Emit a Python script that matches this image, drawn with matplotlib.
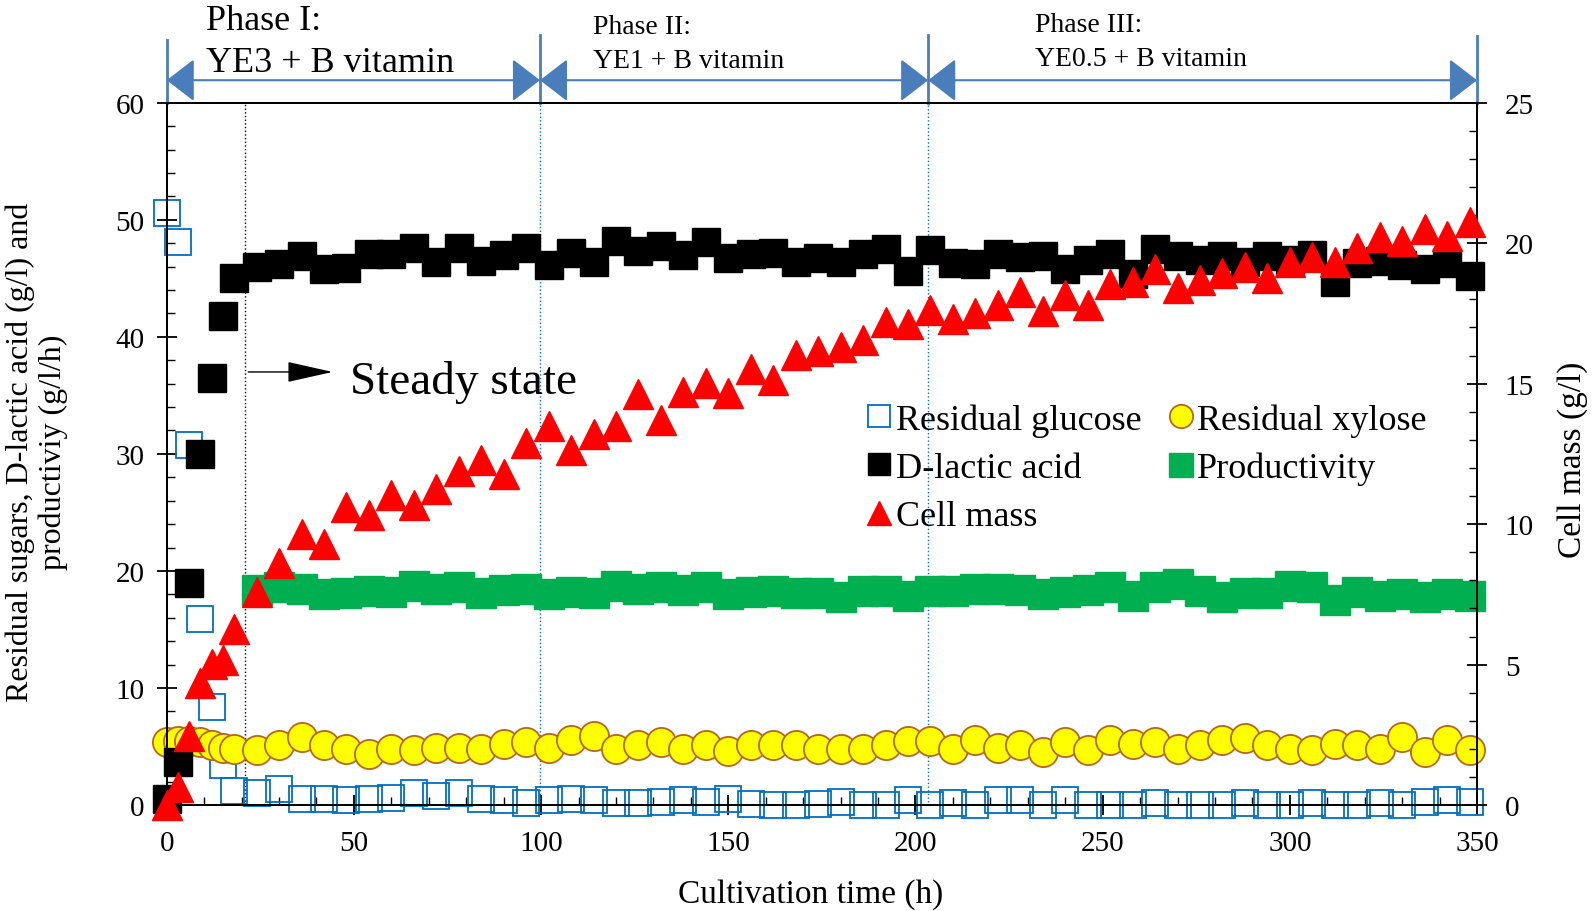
import matplotlib
matplotlib.use("Agg")
import matplotlib.pyplot as plt
from matplotlib.ticker import MultipleLocator

plt.rcParams['font.family'] = ['Liberation Serif', 'DejaVu Serif']

## ---------------------------------------------------------------
## data
## ---------------------------------------------------------------
times = [0, 3, 6, 9, 12, 15, 18,
         24, 30, 36, 42, 48, 54, 60, 66, 72, 78,
         84, 90, 96, 102, 108, 114, 120, 126, 132, 138,
         144, 150, 156, 162, 168, 174, 180, 186, 192, 198,
         204, 210, 216, 222, 228, 234, 240, 246, 252, 258,
         264, 270, 276, 282, 288, 294, 300, 306, 312, 318,
         324, 330, 336, 342, 348]

glucose = [50.6, 48.1, 30.8, 15.9, 8.4, 3.4, 1.2,
           1.0, 1.4, 0.5, 0.5, 0.4, 0.5, 0.6, 1.0, 0.8, 1.0,
           0.5, 0.4, 0.2, 0.4, 0.5, 0.4, 0.2, 0.2, 0.3, 0.4,
           0.3, 0.5, 0.1, 0.0, 0.0, 0.1, 0.3, 0.0, 0.0, 0.4,
           0.0, 0.2, 0.0, 0.4, 0.4, 0.0, 0.4, 0.0, 0.0, 0.0,
           0.2, 0.0, 0.0, 0.0, 0.2, 0.0, 0.0, 0.2, 0.0, 0.0,
           0.2, 0.0, 0.3, 0.4, 0.3]

xylose = [5.4, 5.5, 5.5, 5.4, 5.1, 4.9, 4.8,
          4.7, 5.1, 5.8, 5.1, 4.8, 4.4, 4.8, 4.7, 4.9, 4.9,
          4.8, 5.2, 5.4, 4.9, 5.6, 5.9, 4.8, 5.1, 5.4, 4.8,
          5.1, 4.6, 5.1, 5.1, 5.1, 4.8, 4.8, 4.8, 5.1, 5.5,
          5.5, 4.8, 5.6, 4.9, 5.1, 4.5, 5.4, 4.7, 5.6, 5.2,
          5.4, 4.8, 5.1, 5.6, 5.7, 5.1, 4.8, 4.7, 5.2, 5.1,
          4.8, 5.8, 4.5, 5.6, 4.7]

lactic = [0.5, 3.7, 19.0, 30.0, 36.5, 41.8, 45.0,
          46.0, 46.2, 46.9, 45.8, 45.9, 47.1, 47.1, 47.6, 46.4, 47.6,
          46.5, 47.0, 47.6, 46.1, 47.2, 46.4, 48.2, 47.3, 47.8, 47.0,
          48.1, 46.7, 47.1, 47.2, 46.4, 46.7, 46.4, 47.1, 47.5, 45.6,
          47.4, 46.3, 46.2, 47.1, 46.8, 46.9, 45.8, 46.6, 47.1, 45.4,
          47.5, 46.9, 46.6, 46.9, 46.4, 46.9, 46.6, 47.0, 44.7, 46.3,
          46.5, 46.1, 45.8, 46.3, 45.2]

cell_mass = [0.0, 0.64, 2.45, 4.33, 5.04, 5.15, 6.26,
             7.6, 8.62, 9.65, 9.29, 10.61, 10.32, 11.03, 10.67, 11.24, 11.88,
             12.29, 11.79, 12.9, 13.48, 12.63, 13.21, 13.5, 14.62, 13.7, 14.71,
             15.03, 14.67, 15.51, 15.14, 16.03, 16.18, 16.31, 16.56, 17.18, 17.13,
             17.63, 17.3, 17.5, 17.8, 18.27, 17.59, 18.15, 17.79, 18.56, 18.62,
             19.08, 18.4, 18.7, 18.93, 19.16, 18.75, 19.32, 19.52, 19.32, 19.82,
             20.21, 20.06, 20.5, 20.26, 20.74]

prod_times = times[7:]
productivity = [18.4, 18.6, 18.5, 18.0, 18.1, 18.3, 18.2, 18.7, 18.5, 18.6,
                18.1, 18.4, 18.5, 18.0, 18.2, 18.1, 18.7, 18.5, 18.6, 18.4,
                18.6, 18.0, 18.2, 18.3, 18.1, 18.1, 17.8, 18.3, 18.3, 17.9,
                18.3, 18.3, 18.5, 18.5, 18.4, 18.0, 18.2, 18.4, 18.6, 17.9,
                18.6, 18.9, 18.3, 17.8, 18.1, 18.1, 18.7, 18.6, 17.5, 18.2,
                17.9, 18.0, 17.8, 18.0, 17.9]

phase_edges = [0, 99.7, 203.4, 350]
phase_titles = ["Phase I:", "Phase II:", "Phase III:"]
phase_media = ["YE3 + B vitamin", "YE1 + B vitamin", "YE0.5 + B vitamin"]
steady_t = 21

## ---------------------------------------------------------------
## figure
## ---------------------------------------------------------------
fig = plt.figure(figsize=(15.94, 9.12), dpi=100)
ax = fig.add_axes([0.1046, 0.1161, 0.822, 0.7702])
ax2 = ax.twinx()

blue = '#0070C0'
arrow_blue = '#4A7EBB'

l_glu, = ax.plot(times, glucose, 's', ms=19, mfc='none', mec=blue, mew=1.3,
                 clip_on=False, zorder=3, label='Residual glucose')
l_xyl, = ax.plot(times, xylose, 'o', ms=21, mfc='#FFFF00', mec='#B5651D', mew=1.3,
                 clip_on=False, zorder=4, label='Residual xylose')
l_lac, = ax.plot(times, lactic, 's', ms=20, color='black',
                 clip_on=False, zorder=5, label='D-lactic acid')
l_prod, = ax.plot(prod_times, productivity, 's', ms=21, color='#00B050',
                  clip_on=False, zorder=6, label='Productivity')
l_cell, = ax2.plot(times, cell_mass, '^', ms=21, color='#FF0000',
                   clip_on=False, zorder=7, label='Cell mass')

# vertical guides inside plot
ax.axvline(steady_t, color='black', ls=':', lw=1.0, zorder=2)
for xb in phase_edges[1:3]:
    ax.plot([xb, xb], [0.005, 1.0], color=blue, ls=':', lw=1.0,
            transform=ax.get_xaxis_transform(), zorder=2)

# phase header: vertical bars, double arrows and texts
trans = ax.get_xaxis_transform()
bar_tops = [1.089, 1.096, 1.096, 1.095]
for xb, yt in zip(phase_edges, bar_tops):
    ax.plot([xb, xb], [1.0, yt], color=arrow_blue, lw=2.0,
            transform=trans, clip_on=False)
for i in range(3):
    ax.annotate('', xy=(phase_edges[i + 1], 1.032), xytext=(phase_edges[i], 1.032),
                xycoords=trans, textcoords=trans,
                arrowprops=dict(arrowstyle='<|-|>,head_length=1.75,head_width=1.35',
                                mutation_scale=10, color=arrow_blue, lw=1.5,
                                shrinkA=0, shrinkB=0))

fig.text(206 / 1594, 1 - 21 / 912, phase_titles[0], fontsize=26, ha='left', va='center')
fig.text(206 / 1594, 1 - 64 / 912, phase_media[0], fontsize=26, ha='left', va='center')
fig.text(593 / 1594, 1 - 28 / 912, phase_titles[1], fontsize=20, ha='left', va='center')
fig.text(593 / 1594, 1 - 61 / 912, phase_media[1], fontsize=20, ha='left', va='center')
fig.text(1035 / 1594, 1 - 26 / 912, phase_titles[2], fontsize=20, ha='left', va='center')
fig.text(1035 / 1594, 1 - 60 / 912, phase_media[2], fontsize=20, ha='left', va='center')

# steady state arrow
ax.annotate('', xy=(44.3, 37.0), xytext=(21.8, 37.0),
            arrowprops=dict(arrowstyle='-|>,head_length=2.9,head_width=0.65',
                            mutation_scale=10, color='black', lw=1.0,
                            shrinkA=0, shrinkB=0))
ax.text(49.0, 36.2, 'Steady state', fontsize=34, ha='left', va='center')

## ---------------------------------------------------------------
## axes
## ---------------------------------------------------------------
ax.set_xlim(0, 350)
ax.set_ylim(0, 60)
ax2.set_ylim(0, 25)

ax.xaxis.set_major_locator(MultipleLocator(50))
ax.xaxis.set_minor_locator(MultipleLocator(10))
ax.yaxis.set_major_locator(MultipleLocator(10))
ax.yaxis.set_minor_locator(MultipleLocator(2))
ax2.yaxis.set_major_locator(MultipleLocator(5))
ax2.yaxis.set_minor_locator(MultipleLocator(1))

for a in (ax, ax2):
    a.tick_params(which='major', direction='inout', length=14, width=1.3,
                  labelsize=21)
    a.tick_params(which='minor', direction='in', length=6, width=1.0)
    for sp in a.spines.values():
        sp.set_linewidth(1.4)
ax.tick_params(axis='x', which='major', pad=11)
ax.tick_params(axis='y', which='major', pad=9)
ax2.tick_params(axis='y', which='major', pad=13)

fig.text(811 / 1594, 1 - 895 / 912, 'Cultivation time (h)', fontsize=24,
         ha='center', va='center')
fig.text(37 / 1594, 1 - 452 / 912,
         'Residual sugars, D-lactic acid (g/l) and\nproductiviy (g/l/h)',
         fontsize=23, rotation=90, ha='center', va='center', linespacing=1.15)
fig.text(1573 / 1594, 1 - 460 / 912, 'Cell mass (g/l)', fontsize=24,
         rotation=90, ha='center', va='center')

leg = ax2.legend([l_glu, l_lac, l_cell, l_xyl, l_prod],
                 ['Residual glucose', 'D-lactic acid', 'Cell mass',
                  'Residual xylose', 'Productivity'],
                 ncol=2, loc='upper left', bbox_to_anchor=(0.5437, 0.557),
                 bbox_transform=fig.transFigure, frameon=False,
                 fontsize=26, markerscale=0.8, handlelength=0.7,
                 handletextpad=0.1, columnspacing=0.75, labelspacing=0.42,
                 borderpad=0, borderaxespad=0)

fig.savefig('out.png', dpi=100)
